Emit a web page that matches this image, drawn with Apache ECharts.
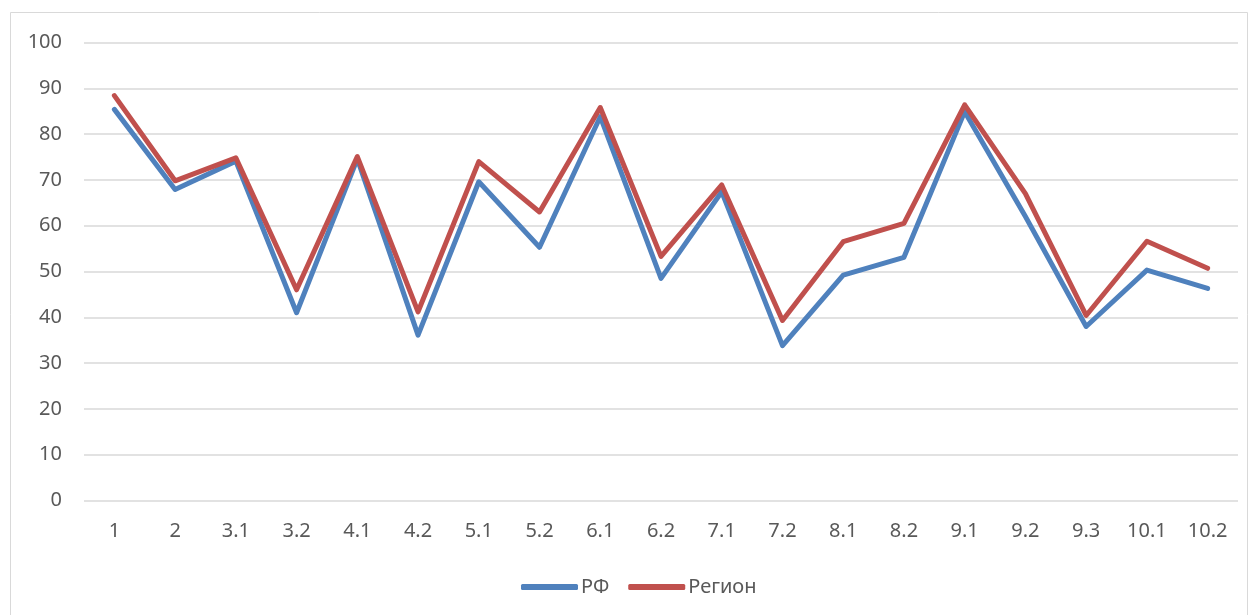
<!DOCTYPE html>
<html><head><meta charset="utf-8">
<script src="https://cdn.jsdelivr.net/npm/echarts@6/dist/echarts.min.js"></script>
<style>html,body{margin:0;padding:0;background:#fff}#c{width:1258px;height:615px}</style>
</head><body><div id="c"></div>
<script>
const categories = ['1','2','3.1','3.2','4.1','4.2','5.1','5.2','6.1','6.2','7.1','7.2','8.1','8.2','9.1','9.2','9.3','10.1','10.2'];
const rfValues = [85.4, 67.9, 74.1, 41.0, 74.6, 36.1, 69.6, 55.3, 83.8, 48.5, 67.4, 33.8, 49.2, 53.1, 84.9, 62.0, 38.0, 50.3, 46.3];
const regionValues = [88.4, 69.8, 74.8, 46.0, 75.1, 41.2, 74.0, 63.0, 85.8, 53.3, 68.9, 39.3, 56.5, 60.5, 86.4, 67.0, 40.4, 56.6, 50.7];
const yTicks = {min: 0, max: 100, interval: 10};

const chart = echarts.init(document.getElementById('c'));
const font = '"Noto Sans", "Open Sans", sans-serif';
chart.setOption({
  animation: false,
  backgroundColor: '#fff',
  graphic: [{type: 'rect', shape: {x: 10.5, y: 12.5, width: 1237, height: 620}, style: {fill: 'none', stroke: '#D9D9D9', lineWidth: 1}}],
  grid: {left: 84, right: 20, top: 42.5, bottom: 114.5},
  legend: {
    top: 572, left: 516, itemWidth: 57, itemHeight: 6, itemGap: 19,
    icon: 'roundRect',
    textStyle: {color: '#595959', fontSize: 20, fontFamily: font, padding: [0,0,0,-2]},
    data: ['РФ', 'Регион']
  },
  xAxis: {
    type: 'category', data: categories, boundaryGap: true,
    axisLine: {show: false}, axisTick: {show: false},
    axisLabel: {color: '#595959', fontSize: 20, fontFamily: font, margin: 21}
  },
  yAxis: {
    type: 'value', min: yTicks.min, max: yTicks.max, interval: yTicks.interval,
    axisLine: {show: false}, axisTick: {show: false},
    axisLabel: {color: '#595959', fontSize: 20, fontFamily: font, margin: 22},
    splitLine: {lineStyle: {color: '#D9D9D9', width: 1.5}}
  },
  series: [
    {name: 'РФ', type: 'line', data: rfValues, symbol: 'none', color: '#4F81BD',
     lineStyle: {width: 5, color: '#4F81BD', cap: 'round', join: 'round'}},
    {name: 'Регион', type: 'line', data: regionValues, symbol: 'none', color: '#C0504D',
     lineStyle: {width: 5, color: '#C0504D', cap: 'round', join: 'round'}}
  ]
});
</script></body></html>
